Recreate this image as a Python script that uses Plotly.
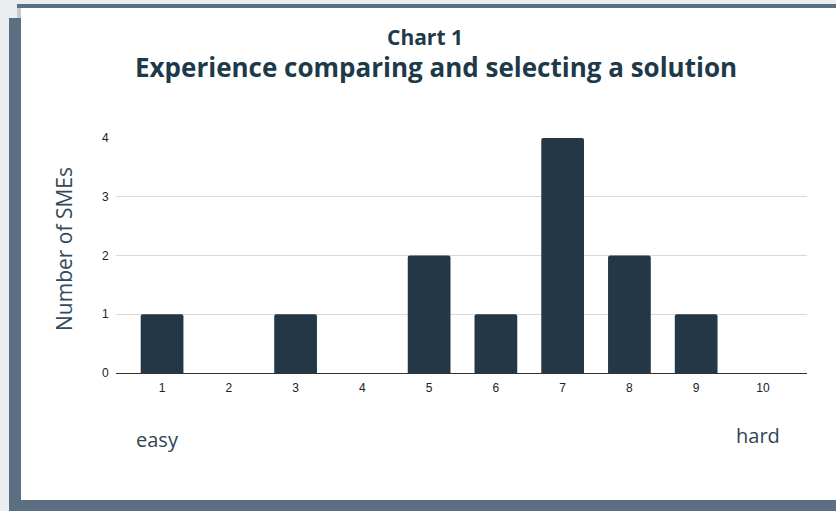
import plotly.graph_objects as go

# ---- data ----
scores = [1, 2, 3, 4, 5, 6, 7, 8, 9, 10]
num_smes = [1, 0, 1, 0, 2, 1, 4, 2, 1, 0]
y_ticks = [0, 1, 2, 3, 4]

W, H = 836, 511
L, R, T, B = 116, 29, 138, 138
PW, PH = W - L - R, H - T - B


def px(x):
    return (x - L) / PW


def py(y):
    return (H - B - y) / PH


BAR = "#233746"
FRAME = "#5b6f83"
TXT = "#1e3a4a"

fig = go.Figure(
    go.Bar(
        x=scores,
        y=num_smes,
        width=0.64,
        marker=dict(color=BAR, line=dict(width=0), cornerradius=2),
        hoverinfo="x+y",
    )
)

shapes = [
    dict(type="rect", xref="paper", yref="paper", x0=px(9), x1=px(836), y0=py(511), y1=py(18),
         fillcolor=FRAME, line=dict(width=0), layer="below"),
    dict(type="rect", xref="paper", yref="paper", x0=px(17), x1=px(836), y0=py(8), y1=py(4),
         fillcolor=FRAME, line=dict(width=0), layer="below"),
    dict(type="rect", xref="paper", yref="paper", x0=px(17), x1=px(21), y0=py(18), y1=py(8),
         fillcolor="#c4ccd3", line=dict(width=0), layer="below"),
    dict(type="rect", xref="paper", yref="paper", x0=px(21), x1=px(836), y0=py(500), y1=py(8),
         fillcolor="#ffffff", line=dict(width=0), layer="below"),
]

annotations = [
    dict(text="<b>Chart 1</b>", x=px(425), y=py(37), xref="paper", yref="paper",
         showarrow=False, font=dict(family="Open Sans", size=21, color=TXT),
         xanchor="center", yanchor="middle"),
    dict(text="<b>Experience comparing and selecting a solution</b>", x=px(436), y=py(67),
         xref="paper", yref="paper", showarrow=False,
         font=dict(family="Open Sans", size=26, color=TXT), xanchor="center", yanchor="middle"),
    dict(text="Number of SMEs", x=px(64), y=py(249), xref="paper", yref="paper",
         showarrow=False, textangle=-90, font=dict(family="Open Sans", size=21, color="#33495a"),
         xanchor="center", yanchor="middle"),
    dict(text="easy", x=px(157), y=py(439), xref="paper", yref="paper", showarrow=False,
         font=dict(family="Open Sans", size=20, color="#2e4555"), xanchor="center", yanchor="middle"),
    dict(text="hard", x=px(758), y=py(435), xref="paper", yref="paper", showarrow=False,
         font=dict(family="Open Sans", size=20, color="#2e4555"), xanchor="center", yanchor="middle"),
]

fig.update_layout(
    width=W,
    height=H,
    margin=dict(l=L, r=R, t=T, b=B, pad=0),
    paper_bgcolor="#eaeef0",
    plot_bgcolor="rgba(0,0,0,0)",
    showlegend=False,
    shapes=shapes,
    annotations=annotations,
    bargap=0.36,
    xaxis=dict(
        range=[0.31, 10.66],
        tickvals=scores,
        ticktext=[str(s) for s in scores],
        showgrid=False,
        zeroline=False,
        showline=False,
        ticks="outside",
        ticklen=4,
        tickcolor="rgba(0,0,0,0)",
        tickfont=dict(family="Liberation Sans", size=12, color="#222222"),
        fixedrange=True,
    ),
    yaxis=dict(
        range=[0, 4],
        tickvals=y_ticks,
        showgrid=True,
        gridcolor="#d9d9d9",
        gridwidth=1,
        zeroline=True,
        zerolinecolor="#333333",
        zerolinewidth=1,
        showline=False,
        ticks="outside",
        ticklen=4,
        tickcolor="rgba(0,0,0,0)",
        tickfont=dict(family="Liberation Sans", size=12, color="#222222"),
        fixedrange=True,
    ),
)

fig.write_html(
    "out.html",
    config={"displayModeBar": False},
    post_script="document.body.style.margin='0';document.body.style.overflow='hidden';",
)
